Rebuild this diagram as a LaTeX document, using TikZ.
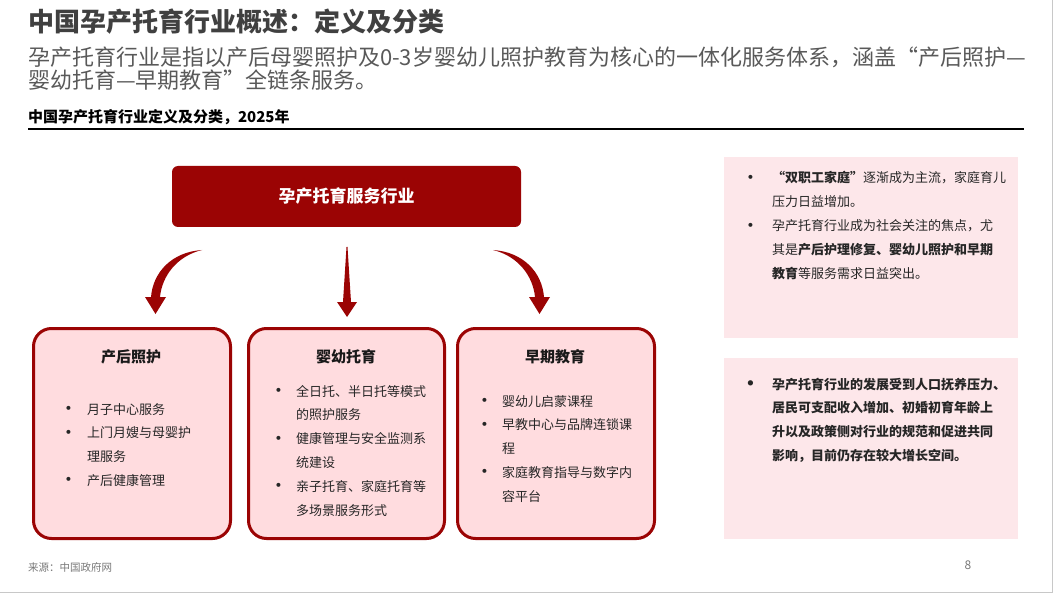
\documentclass[tikz,border=0pt]{standalone}
\usepackage{fontspec}
\usepackage{graphicx}
\setmainfont{Noto Sans CJK SC}
\usetikzlibrary{calc}
\definecolor{hdred}{RGB}{155,4,4}
\definecolor{boxpink}{RGB}{255,220,223}
\definecolor{panelpink}{RGB}{253,231,234}
\definecolor{titlegray}{RGB}{64,64,64}
\definecolor{subgray}{RGB}{89,89,89}
\definecolor{footgray}{RGB}{120,120,120}
\definecolor{framegray}{RGB}{200,200,200}
\newcommand{\bul}[1]{\makebox[#1][l]{\raisebox{-0.12em}{\scalebox{1.45}{•}}}}

\begin{document}
\begin{tikzpicture}[x=1pt,y=-1pt,
    every node/.style={inner sep=0pt,outer sep=0pt},
    catbox/.style={draw=hdred,line width=3pt,fill=boxpink,rounded corners=18pt,
      minimum width=197pt,minimum height=210pt},
    cattitle/.style={font=\fontsize{15}{18}\selectfont\bfseries,text=black!90},
    itemtext/.style={anchor=base west,align=left,
      font=\fontsize{13}{23.8}\selectfont,text=black!85},
    notepanel/.style={fill=panelpink,minimum width=294pt,minimum height=181pt},
    flowarrow/.style={fill=hdred}]
    \useasboundingbox (0,0) rectangle (1056,593);
    \draw[framegray,line width=1.2pt] (0,592.4) -- (1052.4,592.4) -- (1052.4,0);

    % multi-line nodes sit on the baseline of their last line
    \node[anchor=base west,text=titlegray,font=\fontsize{26}{30}\selectfont\bfseries] (title) at (28,32) {中国孕产托育行业概述：定义及分类};
    \node[anchor=base west,align=left,text=subgray,font=\fontsize{22}{23}\selectfont] (lead) at (28,89)
        {孕产托育行业是指以产后母婴照护及0-3岁婴幼儿照护教育为核心的一体化服务体系，涵盖“产后照护—\\婴幼托育—早期教育”全链条服务。};
    \node[anchor=base west,font=\fontsize{15}{18}\selectfont\bfseries] (caption) at (28,123) {中国孕产托育行业定义及分类，2025年};
    \draw[line width=2pt] (28,129.5) -- (1024,129.5);

    \node[fill=hdred,rounded corners=6pt,minimum width=349pt,minimum height=61pt,
        text=white,font=\fontsize{17}{20}\selectfont\bfseries] (industry) at (346.5,196.5) {孕产托育服务行业};

    \fill[flowarrow] (202,250) .. controls (172,252) and (153,272) .. (151,297) -- (145,297) -- (155.5,314)
        -- (166,297) -- (160,297) .. controls (162,276) and (177,256) .. (202,250) -- cycle;
    \fill[flowarrow] (346.5,247) -- (347.5,247) -- (351,302) -- (357,302) -- (347,317) -- (337,302) -- (343,302) -- cycle;
    \fill[flowarrow] (493,250) .. controls (523,252) and (542,272) .. (544,297) -- (550,297) -- (539.5,314)
        -- (529,297) -- (535,297) .. controls (533,276) and (518,256) .. (493,250) -- cycle;

    \node[catbox] (postpartum) at (132,433.5) {};
    \node[catbox,minimum width=196pt] (nursery) at (346.5,433.5) {};
    \node[catbox] (earlyedu) at (556,433.5) {};

    \node[cattitle] (postpartum-t) at (131,357) {产后照护};
    \node[cattitle] (nursery-t) at (346,357) {婴幼托育};
    \node[cattitle] (earlyedu-t) at (555,357) {早期教育};

    \node[itemtext] (postpartum-l) at (59,485.4)
        {\bul{28pt}月子中心服务\\\bul{28pt}上门月嫂与母婴护\\\hspace*{28pt}理服务\\\bul{28pt}产后健康管理};
    \node[itemtext] (nursery-l) at (269,515)
        {\bul{27pt}全日托、半日托等模式\\\hspace*{27pt}的照护服务\\\bul{27pt}健康管理与安全监测系\\\hspace*{27pt}统建设\\\bul{27pt}亲子托育、家庭托育等\\\hspace*{27pt}多场景服务形式};
    \node[itemtext] (earlyedu-l) at (475,501.2)
        {\bul{27pt}婴幼儿启蒙课程\\\bul{27pt}早教中心与品牌连锁课\\\hspace*{27pt}程\\\bul{27pt}家庭教育指导与数字内\\\hspace*{27pt}容平台};

    \node[notepanel] (trend) at (871,247.5) {};
    \node[notepanel] (outlook) at (871,448.5) {};
    \node[itemtext] (trend-l) at (741,278.2)
        {\bul{31pt}\textbf{“双职工家庭”}逐渐成为主流，家庭育儿\\\hspace*{31pt}压力日益增加。\\\bul{31pt}孕产托育行业成为社会关注的焦点，尤\\\hspace*{31pt}其是\textbf{产后护理修复、婴幼儿照护和早期}\\\hspace*{31pt}\textbf{教育}等服务需求日益突出。};
    \node[itemtext,font=\fontsize{13}{23.8}\selectfont\bfseries] (outlook-l) at (741,460.4)
        {\bul{31pt}孕产托育行业的发展受到人口抚养压力、\\\hspace*{31pt}居民可支配收入增加、初婚初育年龄上\\\hspace*{31pt}升以及政策侧对行业的规范和促进共同\\\hspace*{31pt}影响，目前仍存在较大增长空间。};

    \node[anchor=base west,text=footgray,font=\fontsize{10.5}{12}\selectfont] (source) at (28,571) {来源：中国政府网};
    \node[anchor=base,text=footgray,font=\fontsize{12}{14}\selectfont] (pageno) at (968,569.5) {8};
\end{tikzpicture}
\end{document}
